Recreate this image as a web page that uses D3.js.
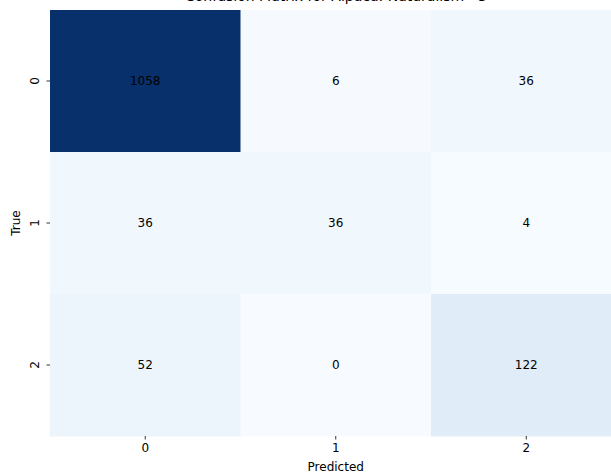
<!DOCTYPE html>
<html lang="en">
<head>
<meta charset="utf-8">
<title>Confusion matrix</title>
<style>
  body { margin: 0; background: #fff; }
  text { font-family: "DejaVu Sans", sans-serif; }
</style>
<script src="https://cdn.jsdelivr.net/npm/d3@7"></script>
</head>
<body>
<div id="chart"></div>
<script>
var trueLabels = ["0", "1", "2"],
    predLabels = ["0", "1", "2"],
    row0 = [1058, 6, 36],
    row1 = [36, 36, 4],
    row2 = [52, 0, 122],
    title = "Confusion Matrix for Alpaca: Naturalism - 3";

var rows = [row0, row1, row2];

var W = 611, H = 475,
    m = {top: 10, left: 50},
    cellW = 190.5, cellH = 142;

var svg = d3.select("#chart").append("svg")
    .attr("width", W).attr("height", H);

var x = d3.scaleBand().domain(predLabels).range([m.left, m.left + cellW * 3]),
    y = d3.scaleBand().domain(trueLabels).range([m.top, m.top + cellH * 3]);

var col = d3.scaleSequential(d3.interpolateBlues)
    .domain([0, d3.max(rows, function (r) { return d3.max(r); })]);

var cells = [];
rows.forEach(function (r, i) {
    r.forEach(function (v, j) {
        cells.push({t: trueLabels[i], p: predLabels[j], v: v});
    });
});

svg.append("g").selectAll("rect").data(cells).enter().append("rect")
    .attr("x", function (d) { return x(d.p); })
    .attr("y", function (d) { return y(d.t); })
    .attr("width", x.bandwidth() + 0.5)
    .attr("height", y.bandwidth() + 0.5)
    .attr("fill", function (d) { return col(d.v); });

svg.append("g").selectAll("text").data(cells).enter().append("text")
    .attr("x", function (d) { return x(d.p) + x.bandwidth() / 2; })
    .attr("y", function (d) { return y(d.t) + y.bandwidth() / 2; })
    .attr("text-anchor", "middle")
    .attr("dy", "0.35em")
    .attr("font-size", 12)
    .attr("fill", "#000")
    .text(function (d) { return d.v; });

// axes
var xAxis = svg.append("g")
    .attr("transform", "translate(0," + (m.top + cellH * 3) + ")")
    .call(d3.axisBottom(x).tickSize(3.5).tickPadding(3.5));
var yAxis = svg.append("g")
    .attr("transform", "translate(" + m.left + ",0)")
    .call(d3.axisLeft(y).tickSize(3.5).tickPadding(3.5));

[xAxis, yAxis].forEach(function (a) {
    a.select(".domain").remove();
    a.selectAll(".tick line").attr("stroke", "#000").attr("stroke-width", 0.8);
    a.selectAll(".tick text").attr("font-size", 12).attr("fill", "#000")
        .attr("font-family", "DejaVu Sans, sans-serif");
});

yAxis.selectAll(".tick text")
    .attr("text-anchor", "middle")
    .attr("transform", "translate(-15,0) rotate(-90)")
    .attr("x", 0).attr("dy", "0.35em");

svg.append("text")
    .attr("x", m.left + cellW * 1.5).attr("y", 471)
    .attr("text-anchor", "middle").attr("font-size", 12)
    .text("Predicted");

svg.append("text")
    .attr("transform", "translate(20," + (m.top + cellH * 1.5) + ") rotate(-90)")
    .attr("text-anchor", "middle").attr("font-size", 12)
    .text("True");

// title sits mostly above the visible area, as in the reference
svg.append("text")
    .attr("x", 336).attr("y", 0.8)
    .attr("text-anchor", "middle").attr("font-size", 14)
    .text(title);
</script>
</body>
</html>
